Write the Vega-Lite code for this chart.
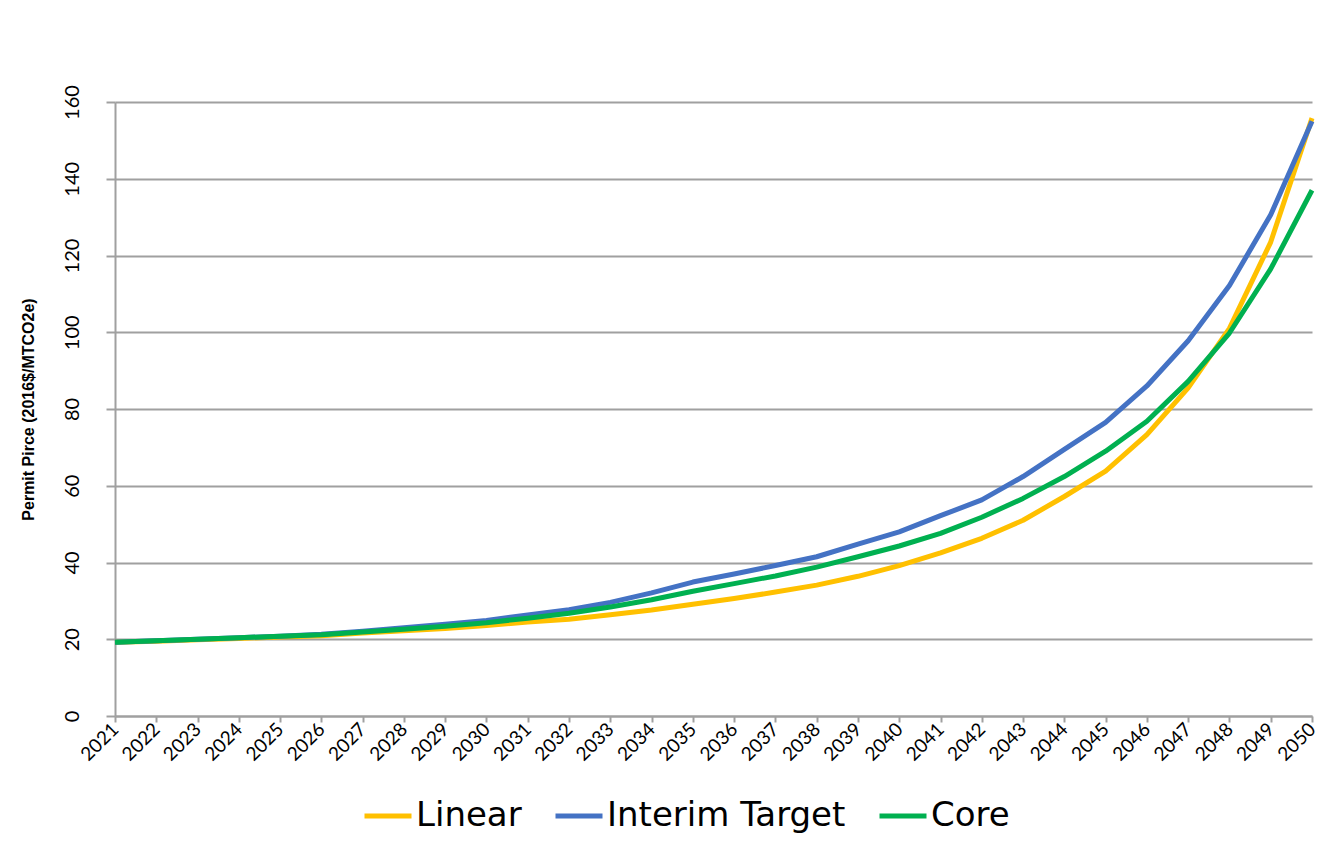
{
  "$schema": "https://vega.github.io/schema/vega-lite/v6.json",
  "autosize": {"type": "none"},
  "width": 1197,
  "height": 614,
  "padding": {"left": 115, "top": 102, "right": 30, "bottom": 129},
  "background": "white",
  "config": {"view": {"stroke": null}},
  "datasets": {
    "raw": [
      {"year": "2021", "Linear": 19.2, "Interim Target": 19.2, "Core": 19.2},
      {"year": "2022", "Linear": 19.5, "Interim Target": 19.6, "Core": 19.6},
      {"year": "2023", "Linear": 19.9, "Interim Target": 20.0, "Core": 20.0},
      {"year": "2024", "Linear": 20.2, "Interim Target": 20.4, "Core": 20.4},
      {"year": "2025", "Linear": 20.6, "Interim Target": 20.8, "Core": 20.8},
      {"year": "2026", "Linear": 20.9, "Interim Target": 21.3, "Core": 21.2},
      {"year": "2027", "Linear": 21.6, "Interim Target": 22.1, "Core": 21.9},
      {"year": "2028", "Linear": 22.2, "Interim Target": 23.0, "Core": 22.6},
      {"year": "2029", "Linear": 22.8, "Interim Target": 23.9, "Core": 23.4},
      {"year": "2030", "Linear": 23.6, "Interim Target": 24.9, "Core": 24.3},
      {"year": "2031", "Linear": 24.5, "Interim Target": 26.3, "Core": 25.5},
      {"year": "2032", "Linear": 25.2, "Interim Target": 27.7, "Core": 26.8},
      {"year": "2033", "Linear": 26.4, "Interim Target": 29.6, "Core": 28.4},
      {"year": "2034", "Linear": 27.6, "Interim Target": 32.1, "Core": 30.3},
      {"year": "2035", "Linear": 29.1, "Interim Target": 34.9, "Core": 32.5},
      {"year": "2036", "Linear": 30.6, "Interim Target": 37.0, "Core": 34.5},
      {"year": "2037", "Linear": 32.3, "Interim Target": 39.2, "Core": 36.5},
      {"year": "2038", "Linear": 34.1, "Interim Target": 41.5, "Core": 38.8},
      {"year": "2039", "Linear": 36.4, "Interim Target": 44.8, "Core": 41.5},
      {"year": "2040", "Linear": 39.2, "Interim Target": 48.0, "Core": 44.3},
      {"year": "2041", "Linear": 42.5, "Interim Target": 52.2, "Core": 47.6},
      {"year": "2042", "Linear": 46.3, "Interim Target": 56.3, "Core": 51.8},
      {"year": "2043", "Linear": 51.0, "Interim Target": 62.4, "Core": 56.7},
      {"year": "2044", "Linear": 57.2, "Interim Target": 69.5, "Core": 62.4},
      {"year": "2045", "Linear": 63.8, "Interim Target": 76.5, "Core": 69.0},
      {"year": "2046", "Linear": 73.3, "Interim Target": 86.0, "Core": 76.8},
      {"year": "2047", "Linear": 85.5, "Interim Target": 97.8, "Core": 87.2},
      {"year": "2048", "Linear": 101.0, "Interim Target": 112.2, "Core": 99.8},
      {"year": "2049", "Linear": 123.5, "Interim Target": 130.6, "Core": 116.5},
      {"year": "2050", "Linear": 155.8, "Interim Target": 155.0, "Core": 137.0}
    ]
  },
  "data": {"name": "raw"},
  "transform": [
    {"fold": ["Linear", "Interim Target", "Core"], "as": ["series", "value"]}
  ],
  "mark": {"type": "line", "strokeWidth": 5, "strokeJoin": "round"},
  "encoding": {
    "x": {
      "field": "year",
      "type": "ordinal",
      "scale": {"type": "point", "padding": 0},
      "axis": {
        "title": null,
        "labelAngle": -45,
        "labelAlign": "right",
        "labelBaseline": "middle",
        "labelFont": "Lato",
        "labelFontSize": 19,
        "labelColor": "#000000",
        "labelPadding": 4,
        "tickColor": "#a0a0a0",
        "tickWidth": 2,
        "tickSize": 6,
        "domainColor": "#a0a0a0",
        "domainWidth": 2,
        "grid": false
      }
    },
    "y": {
      "field": "value",
      "type": "quantitative",
      "scale": {"domain": [0, 160], "nice": false},
      "axis": {
        "title": "Permit Pirce (2016$/MTCO2e)",
        "titleFont": "Liberation Sans",
        "titleFontSize": 16,
        "titleFontWeight": "bold",
        "titleColor": "#000000",
        "titlePadding": 26,
        "values": [0, 20, 40, 60, 80, 100, 120, 140, 160],
        "labelAngle": -90,
        "labelAlign": "center",
        "labelBaseline": "bottom",
        "labelFont": "Lato",
        "labelFontSize": 20,
        "labelColor": "#000000",
        "labelPadding": 24,
        "tickColor": "#a0a0a0",
        "tickWidth": 2,
        "tickSize": 9,
        "domainColor": "#a0a0a0",
        "domainWidth": 2,
        "grid": true,
        "gridColor": "#a0a0a0",
        "gridWidth": 2
      }
    },
    "color": {
      "field": "series",
      "type": "nominal",
      "scale": {
        "domain": ["Linear", "Interim Target", "Core"],
        "range": ["#FFC000", "#4472C4", "#00B050"]
      },
      "legend": {
        "title": null,
        "orient": "none",
        "direction": "horizontal",
        "legendX": 247,
        "legendY": 688,
        "symbolType": "stroke",
        "symbolStrokeWidth": 5,
        "symbolSize": 2209,
        "labelFont": "DejaVu Sans",
        "labelFontSize": 34,
        "labelColor": "#000000",
        "labelOffset": 2,
        "columnPadding": 23,
        "labelLimit": 400
      }
    }
  }
}
